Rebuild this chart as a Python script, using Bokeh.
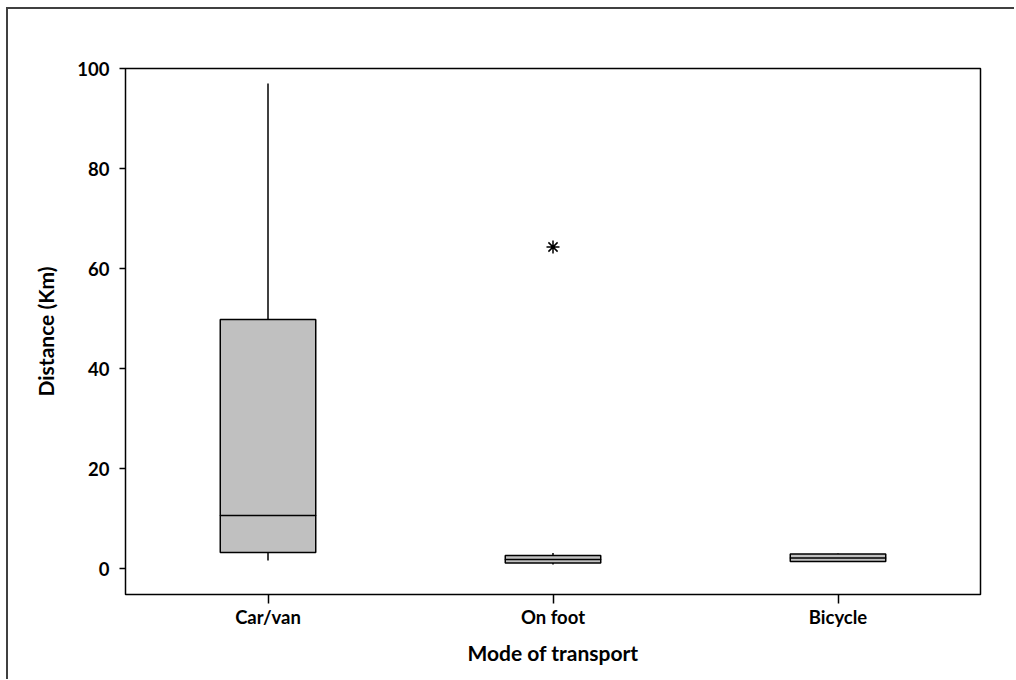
from bokeh.plotting import figure
from bokeh.embed import file_html
from bokeh.resources import INLINE
from bokeh.models import FixedTicker

categories = ["Car/van", "On foot", "Bicycle"]
q1 = [3.2, 1.1, 1.4]
median = [10.6, 1.8, 2.1]
q3 = [49.8, 2.6, 2.9]
lower = [1.6, 0.8, 1.3]
upper = [97.0, 3.1, 3.0]
outlier_cats = ["On foot"]
outlier_vals = [64.3]
y_ticks = [0, 20, 40, 60, 80, 100]

FONT = "Lato"

p = figure(x_range=categories, y_range=(-5.2, 100), width=1008, height=672,
           output_backend="svg", toolbar_location=None,
           min_border_left=117, min_border_right=36, min_border_top=59, min_border_bottom=87)
p.styles = {"border-left": "2px solid #404040", "border-top": "2px solid #404040",
            "box-sizing": "border-box", "margin-left": "6px", "margin-top": "7px"}
p.grid.visible = False
p.outline_line_color = "black"
p.outline_line_width = 1.5

bw = 0.335
p.segment(x0=categories, x1=categories, y0=q3, y1=upper, line_color="black", line_width=1.5)
p.segment(x0=categories, x1=categories, y0=lower, y1=q1, line_color="black", line_width=1.5)
p.vbar(x=categories, bottom=q1, top=q3, width=bw, fill_color="#c0c0c0",
       line_color="black", line_width=1.5)
p.rect(x=categories, y=median, width=bw, height=0.0001, fill_alpha=0,
       line_color="black", line_width=1.5)
p.scatter(x=outlier_cats, y=outlier_vals, marker="asterisk", size=13,
          line_color="black", line_width=1.5)

for ax in (p.xaxis[0], p.yaxis[0]):
    ax.axis_line_color = None
    ax.major_tick_line_color = "black"
    ax.major_tick_line_width = 1.5
    ax.major_tick_in = 0
    ax.minor_tick_line_color = None
    ax.major_label_text_font = FONT
    ax.major_label_text_font_style = "bold"
    ax.major_label_text_font_size = "18.5px"
    ax.major_label_text_color = "black"
    ax.axis_label_text_font = FONT
    ax.axis_label_text_font_style = "bold"
    ax.axis_label_text_font_size = "21px"
    ax.axis_label_text_color = "black"

p.yaxis.ticker = FixedTicker(ticks=y_ticks)
p.yaxis.major_tick_out = 6
p.yaxis.major_label_standoff = 10
p.yaxis.axis_label = "Distance (Km)"
p.yaxis.axis_label_standoff = 16
p.xaxis.major_tick_out = 9
p.xaxis.major_label_standoff = 2
p.xaxis.axis_label = "Mode of transport"
p.xaxis.axis_label_standoff = 9

open("out.html", "w").write(file_html(p, INLINE))
